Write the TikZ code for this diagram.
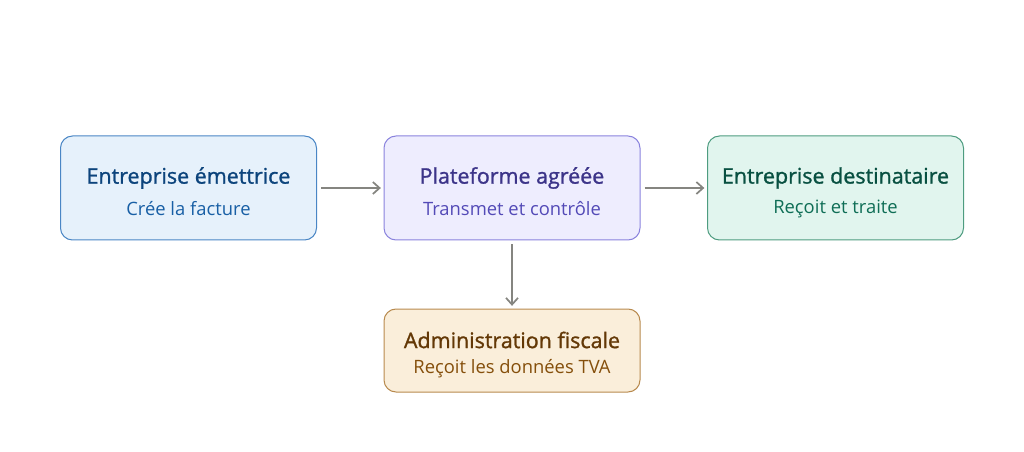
\documentclass[tikz,border=0pt]{standalone}
\usepackage{fontspec}
\setmainfont{Open Sans}
\newfontfamily\medfont{Open Sans}[FakeBold=1.2]
\usetikzlibrary{arrows.meta}
\definecolor{bAfill}{HTML}{E6F1FB}\definecolor{bAdraw}{HTML}{4A86C5}\definecolor{bAt}{HTML}{0C447C}\definecolor{bAs}{HTML}{185FA5}
\definecolor{bBfill}{HTML}{EEEDFE}\definecolor{bBdraw}{HTML}{8A83DD}\definecolor{bBt}{HTML}{3C3489}\definecolor{bBs}{HTML}{534AB7}
\definecolor{bCfill}{HTML}{E1F5EE}\definecolor{bCdraw}{HTML}{4E9C80}\definecolor{bCt}{HTML}{085041}\definecolor{bCs}{HTML}{0F6E56}
\definecolor{bDfill}{HTML}{FAEEDA}\definecolor{bDdraw}{HTML}{B88A4E}\definecolor{bDt}{HTML}{633806}\definecolor{bDs}{HTML}{854F0B}
\definecolor{arr}{HTML}{858580}
\tikzset{
  box/.style={draw, line width=0.75pt, rounded corners=9pt, minimum width=192pt, inner sep=0pt},
  conn/.style={draw=arr, line width=1.3pt, -{Straight Barb[length=5pt,width=9pt,line width=1.3pt]}},
  ttl/.style={font=\medfont\fontsize{16.1}{18}\selectfont},
  sub/.style={font=\fontsize{13.8}{15}\selectfont},
}
\begin{document}
\begin{tikzpicture}[x=0.75pt,y=-0.75pt]
\useasboundingbox (0,0) rectangle (1024,452);
\node[box, fill=bAfill, draw=bAdraw, minimum height=78pt] (A) at (188.5,188) {};
\node[box, fill=bBfill, draw=bBdraw, minimum height=78pt] (B) at (512,188) {};
\node[box, fill=bCfill, draw=bCdraw, minimum height=78pt] (C) at (835.5,188) {};
\node[box, fill=bDfill, draw=bDdraw, minimum height=62.25pt] (D) at (512,350.5) {};
\node[ttl, text=bAt] (At) at (188.5,178) {Entreprise émettrice};
\node[sub, text=bAs] (As) at (188.5,209) {Crée la facture};
\node[ttl, text=bBt] (Bt) at (512,178) {Plateforme agréée};
\node[sub, text=bBs] (Bs) at (512,209) {Transmet et contrôle};
\node[ttl, text=bCt] (Ct) at (835.5,178) {Entreprise destinataire};
\node[sub, text=bCs] (Cs) at (835.5,209) {Reçoit et traite};
\node[ttl, text=bDt] (Dt) at (512,340) {Administration fiscale};
\node[sub, text=bDs] (Ds) at (512,369) {Reçoit les données TVA};
\draw[conn] ([xshift=3pt]A.east) -- ([xshift=-2pt]B.west);
\draw[conn] ([xshift=3pt]B.east) -- ([xshift=-2pt]C.west);
\draw[conn] ([yshift=-3pt]B.south) -- ([yshift=2pt]D.north);
\end{tikzpicture}
\end{document}
